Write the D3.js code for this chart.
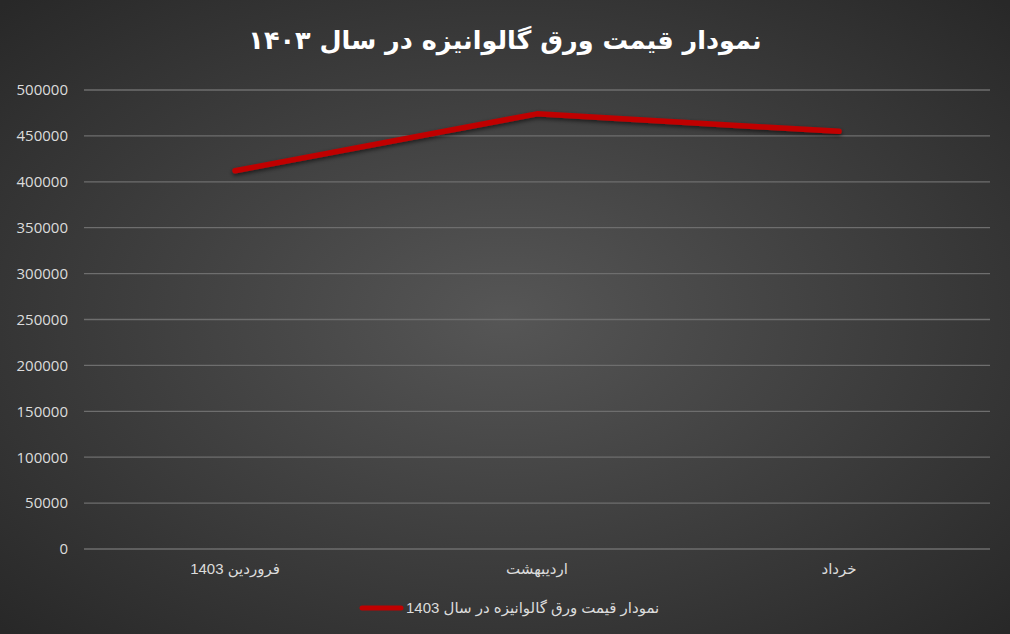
<!DOCTYPE html>
<html><head><meta charset="utf-8">
<script src="https://cdn.jsdelivr.net/npm/d3@7"></script>
<style>html,body{margin:0;padding:0;background:#3a3a3a;}svg{display:block;}</style>
</head><body>
<svg id="c" width="1010" height="634"></svg>
<script>
const titleText = "نمودار قیمت ورق گالوانیزه در سال ۱۴۰۳";
const seriesName = "نمودار قیمت ورق گالوانیزه در سال 1403";
const categories = ["فروردین 1403", "اردیبهشت", "خرداد"];
const values = [412000, 474000, 455000];
const yTicks = [0, 50000, 100000, 150000, 200000, 250000, 300000, 350000, 400000, 450000, 500000];

const W = 1010, H = 634;
const m = {left: 84, right: 990, top: 90, bottom: 549};
const svg = d3.select("#c");
const defs = svg.append("defs");
const rg = defs.append("radialGradient").attr("id","bg").attr("cx","50%").attr("cy","50%").attr("r","70%");
rg.append("stop").attr("offset","0%").attr("stop-color","#565656");
rg.append("stop").attr("offset","100%").attr("stop-color","#282828");
const f = defs.append("filter").attr("id","sh").attr("x","-10%").attr("y","-50%").attr("width","120%").attr("height","200%");
f.append("feDropShadow").attr("dx",0).attr("dy",2).attr("stdDeviation",2).attr("flood-color","#000").attr("flood-opacity",0.6);

svg.append("rect").attr("width",W).attr("height",H).attr("fill","url(#bg)");

const x = d3.scaleBand().domain(categories).range([m.left, m.right]);
const y = d3.scaleLinear().domain([0, 500000]).range([m.bottom, m.top]);

// gridlines
svg.append("g").selectAll("line").data(yTicks).join("line")
  .attr("x1", m.left).attr("x2", m.right)
  .attr("y1", d => y(d)).attr("y2", d => y(d))
  .attr("stroke", "#6e6e6e").attr("stroke-width", 1.3);

// y axis labels
const yAxis = d3.axisLeft(y).tickValues(yTicks).tickSize(0).tickPadding(16).tickFormat(d => String(d));
const ya = svg.append("g").attr("transform", `translate(${m.left},0)`).call(yAxis);
ya.select(".domain").remove();
ya.selectAll("text").attr("fill","#dcdcdc").attr("font-family","Open Sans, Liberation Sans, sans-serif").attr("font-size","15px");

// x axis labels
const xAxis = d3.axisBottom(x).tickSize(0).tickPadding(14);
const xa = svg.append("g").attr("transform", `translate(0,${m.bottom})`).call(xAxis);
xa.select(".domain").remove();
xa.selectAll("text").attr("fill","#dcdcdc").attr("font-family","Liberation Sans, DejaVu Sans, sans-serif").attr("font-size","15px").attr("direction","rtl");

// line
const line = d3.line().x((d,i) => x(categories[i]) + x.bandwidth()/2).y(d => y(d));
svg.append("path").datum(values).attr("d", line)
  .attr("fill","none").attr("stroke","#c00000").attr("stroke-width",5.5)
  .attr("stroke-linecap","round").attr("stroke-linejoin","round").attr("filter","url(#sh)");

// title
svg.append("text").attr("x", 505).attr("y", 49).attr("text-anchor","middle").attr("direction","rtl")
  .attr("fill","#ffffff").attr("font-family","DejaVu Sans, sans-serif").attr("font-weight","bold").attr("font-size","25.5px")
  .text(titleText);

// legend
svg.append("line").attr("x1",362).attr("x2",401).attr("y1",608).attr("y2",608)
  .attr("stroke","#c00000").attr("stroke-width",5).attr("stroke-linecap","round");
svg.append("text").attr("x",406).attr("y",613).attr("text-anchor","end").attr("direction","rtl")
  .attr("fill","#dcdcdc").attr("font-family","Liberation Sans, DejaVu Sans, sans-serif").attr("font-size","15px")
  .text(seriesName);
</script>
</body></html>
